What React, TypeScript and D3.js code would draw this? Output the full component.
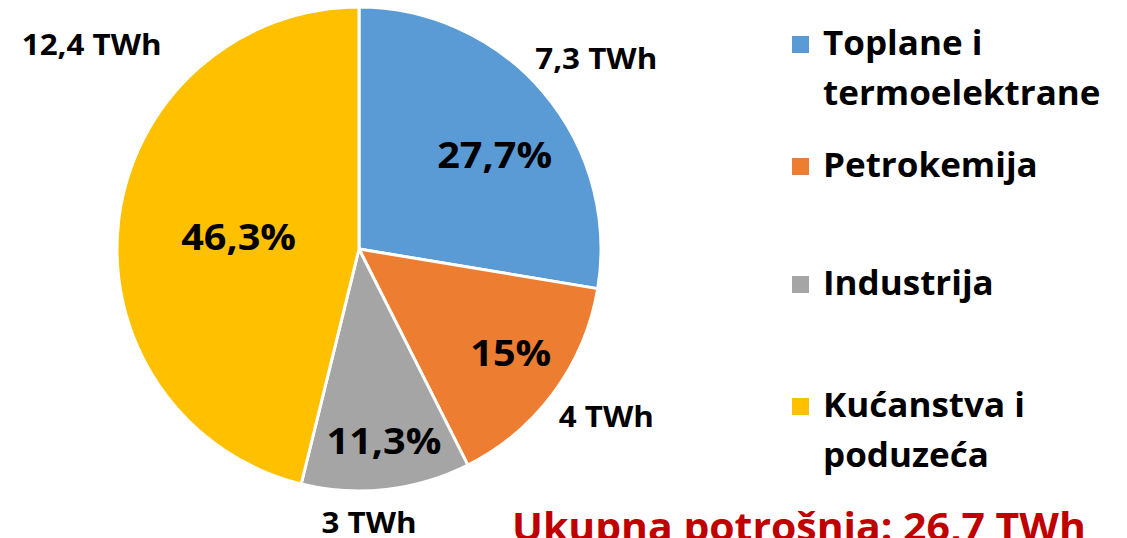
import React from 'react';
import * as d3 from 'd3';

// podaci
const categories = ['Toplane i termoelektrane', 'Petrokemija', 'Industrija', 'Kućanstva i poduzeća'];
const legendLines = [['Toplane i', 'termoelektrane'], ['Petrokemija'], ['Industrija'], ['Kućanstva i', 'poduzeća']];
const shares = [27.7, 15, 11.3, 46.3];
const shareLabels = ['27,7%', '15%', '11,3%', '46,3%'];
const energyLabels = ['7,3 TWh', '4 TWh', '3 TWh', '12,4 TWh'];
const totalLabel = 'Ukupna potrošnja: 26,7 TWh';
const colors = ['#5B9BD5', '#ED7D31', '#A5A5A5', '#FFC000'];

const W = 1127;
const H = 538;
const cx = 359;
const cy = 249;
const R = 242;
// Excel "best fit" pozicije naljepnica (kut u stupnjevima + radijus od sredista)
const innerLabelAngle = [55.3, 124.4, 172.6, 275.7];
const innerLabelR = [165, 184, 194, 121];
const outerLabelAngle = [51.3, 124.2, 177.9, 307.3];
const outerLabelR = [304, 299, 274, 336];
const legendBaseline = [55, 177, 295, 417];
const FONT = '"Open Sans", sans-serif';

const polar = (deg: number, r: number) => {
  const a = (deg * Math.PI) / 180;
  return [Math.sin(a) * r, -Math.cos(a) * r];
};

export default function App() {
  const pie = d3.pie<number>().sort(null).value((d) => d);
  const arcs = pie(shares);
  const arc = d3.arc<d3.PieArcDatum<number>>().innerRadius(0).outerRadius(R);

  return (
    <svg width={W} height={H} style={{ position: 'absolute', left: 0, top: 0 }} fontFamily={FONT} fontWeight="bold">
      <rect width={W} height={H} fill="#fff" />
      <g transform={`translate(${cx},${cy})`}>
        {arcs.map((a, i) => (
          <path key={categories[i]} d={arc(a) ?? ''} fill={colors[i]} stroke="#fff" strokeWidth={3} strokeLinejoin="round" />
        ))}
        {arcs.map((a, i) => {
          const [x, y] = polar(innerLabelAngle[i], innerLabelR[i]);
          return (
            <text key={'p' + i} transform={`translate(${x},${y}) scale(1.1,1)`} dy="0.36em" textAnchor="middle" fontSize={36} fill="#000">
              {shareLabels[i]}
            </text>
          );
        })}
        {arcs.map((a, i) => {
          const [x, y] = polar(outerLabelAngle[i], outerLabelR[i]);
          return (
            <text key={'e' + i} transform={`translate(${x},${y}) scale(1.12,1)`} dy="0.36em" textAnchor="middle" fontSize={28} fill="#000">
              {energyLabels[i]}
            </text>
          );
        })}
      </g>
      {legendLines.map((lines, i) => (
        <g key={'l' + i}>
          <rect x={792} y={legendBaseline[i] - 19} width={17} height={17} fill={colors[i]} />
          {lines.map((t, j) => (
            <text key={t} transform={`translate(823,${legendBaseline[i] + j * 50}) scale(1.03,1)`} fontSize={34} fill="#000">
              {t}
            </text>
          ))}
        </g>
      ))}
      <text transform="translate(512,541) scale(1.05,1)" fontSize={39} fill="#C00000">
        {totalLabel}
      </text>
    </svg>
  );
}
